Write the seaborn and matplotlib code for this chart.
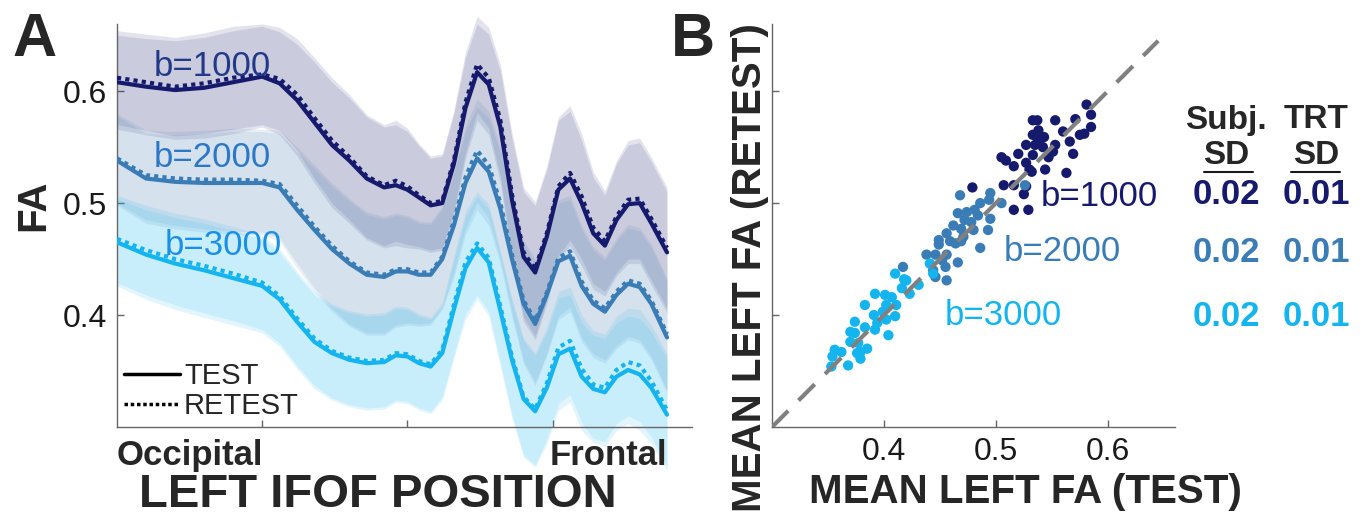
import matplotlib
matplotlib.use("Agg")
import numpy as np
import pandas as pd
import seaborn as sns
import matplotlib.pyplot as plt
from matplotlib.lines import Line2D

# ---- panel A: FA profiles along the left IFOF (node position 0-100) ----
nodes = [0, 5, 10, 15, 20, 25, 28, 31, 34, 37, 40, 43, 46, 48, 50, 52, 54, 56, 58,
         60, 62, 64, 66, 68, 70, 72, 74, 76, 78, 80, 82, 84, 86, 88, 90, 92, 94.7]

fa1000_test = [0.608, 0.604, 0.601, 0.603, 0.608, 0.613, 0.607, 0.592, 0.572, 0.552, 0.538, 0.522,
               0.514, 0.516, 0.512, 0.505, 0.498, 0.500, 0.535, 0.585, 0.617, 0.606, 0.568, 0.503,
               0.452, 0.438, 0.470, 0.512, 0.522, 0.500, 0.473, 0.462, 0.485, 0.499, 0.500, 0.482, 0.456]
fa1000_retest = [0.612, 0.608, 0.604, 0.607, 0.612, 0.615, 0.611, 0.597, 0.576, 0.556, 0.541, 0.524,
                 0.516, 0.520, 0.515, 0.507, 0.500, 0.502, 0.538, 0.590, 0.624, 0.612, 0.574, 0.508,
                 0.456, 0.441, 0.473, 0.515, 0.527, 0.506, 0.478, 0.466, 0.488, 0.503, 0.504, 0.486, 0.460]
fa2000_test = [0.538, 0.522, 0.519, 0.518, 0.518, 0.518, 0.514, 0.494, 0.476, 0.459, 0.446, 0.436,
               0.434, 0.439, 0.439, 0.436, 0.436, 0.450, 0.480, 0.518, 0.540, 0.528, 0.495, 0.450,
               0.410, 0.392, 0.418, 0.448, 0.453, 0.426, 0.410, 0.403, 0.418, 0.428, 0.425, 0.410, 0.380]
fa2000_retest = [0.540, 0.525, 0.522, 0.521, 0.521, 0.520, 0.517, 0.498, 0.479, 0.462, 0.448, 0.438,
                 0.436, 0.441, 0.441, 0.438, 0.438, 0.452, 0.484, 0.523, 0.547, 0.534, 0.500, 0.454,
                 0.413, 0.395, 0.420, 0.451, 0.457, 0.430, 0.413, 0.406, 0.421, 0.431, 0.428, 0.413, 0.383]
fa3000_test = [0.465, 0.454, 0.446, 0.440, 0.433, 0.426, 0.414, 0.394, 0.376, 0.366, 0.360, 0.357,
               0.358, 0.364, 0.363, 0.357, 0.354, 0.366, 0.405, 0.442, 0.460, 0.447, 0.404, 0.360,
               0.325, 0.314, 0.335, 0.365, 0.370, 0.345, 0.334, 0.331, 0.345, 0.351, 0.347, 0.335, 0.311]
fa3000_retest = [0.468, 0.458, 0.450, 0.444, 0.437, 0.429, 0.417, 0.397, 0.379, 0.368, 0.362, 0.359,
                 0.360, 0.366, 0.365, 0.359, 0.356, 0.369, 0.409, 0.447, 0.464, 0.451, 0.408, 0.363,
                 0.327, 0.316, 0.339, 0.371, 0.377, 0.352, 0.338, 0.335, 0.351, 0.358, 0.355, 0.341, 0.315]

# across-subject SD (band half width)
sd1000 = [0.042, 0.043, 0.044, 0.045, 0.046, 0.045, 0.046, 0.050, 0.054, 0.056, 0.056, 0.055,
          0.054, 0.054, 0.052, 0.046, 0.042, 0.042, 0.045, 0.045, 0.043, 0.045, 0.050, 0.055,
          0.058, 0.060, 0.060, 0.062, 0.060, 0.056, 0.050, 0.045, 0.050, 0.053, 0.054, 0.055, 0.054]
sd2000 = [0.040, 0.040, 0.042, 0.044, 0.046, 0.046, 0.048, 0.052, 0.055, 0.056, 0.056, 0.054,
          0.052, 0.050, 0.048, 0.046, 0.045, 0.045, 0.046, 0.046, 0.046, 0.048, 0.050, 0.052,
          0.054, 0.055, 0.054, 0.052, 0.050, 0.050, 0.048, 0.046, 0.048, 0.050, 0.050, 0.050, 0.050]
sd3000 = [0.039, 0.040, 0.041, 0.042, 0.042, 0.042, 0.042, 0.042, 0.042, 0.042, 0.042, 0.042,
          0.042, 0.042, 0.042, 0.042, 0.042, 0.042, 0.044, 0.046, 0.046, 0.048, 0.050, 0.052,
          0.052, 0.050, 0.050, 0.050, 0.048, 0.048, 0.048, 0.048, 0.048, 0.048, 0.050, 0.050, 0.050]

# ---- panel B: mean left FA per subject, test vs retest ----
b1000_test = [0.581, 0.585, 0.533, 0.537, 0.553, 0.571, 0.585, 0.579, 0.575, 0.538, 0.533, 0.538, 0.543,
              0.560, 0.566, 0.527, 0.535, 0.542, 0.553, 0.551, 0.520, 0.533, 0.547, 0.569, 0.505, 0.509,
              0.527, 0.516, 0.530, 0.532, 0.544, 0.563, 0.507, 0.527, 0.516, 0.529, 0.525, 0.479, 0.516]
b1000_retest = [0.588, 0.579, 0.574, 0.574, 0.574, 0.575, 0.568, 0.562, 0.561, 0.565, 0.561, 0.557, 0.559,
                0.564, 0.555, 0.552, 0.552, 0.550, 0.552, 0.546, 0.544, 0.543, 0.541, 0.544, 0.541, 0.538,
                0.536, 0.533, 0.530, 0.528, 0.530, 0.527, 0.516, 0.515, 0.494, 0.494, 0.508, 0.514, 0.516]
b2000_test = [0.468, 0.495, 0.494, 0.486, 0.505, 0.466, 0.474, 0.481, 0.484, 0.495, 0.472, 0.478, 0.462,
              0.469, 0.480, 0.493, 0.456, 0.471, 0.449, 0.459, 0.469, 0.449, 0.486, 0.438, 0.446, 0.456,
              0.452, 0.466, 0.417, 0.455, 0.444, 0.456, 0.464, 0.446, 0.526]
b2000_retest = [0.507, 0.509, 0.503, 0.500, 0.500, 0.491, 0.492, 0.494, 0.489, 0.486, 0.485, 0.483, 0.480,
                0.477, 0.476, 0.476, 0.473, 0.470, 0.467, 0.466, 0.466, 0.463, 0.460, 0.454, 0.454, 0.454,
                0.449, 0.447, 0.443, 0.443, 0.440, 0.431, 0.464, 0.434, 0.516]
b3000_test = [0.441, 0.410, 0.418, 0.416, 0.423, 0.431, 0.392, 0.401, 0.407, 0.383, 0.402, 0.411, 0.399,
              0.391, 0.410, 0.402, 0.374, 0.394, 0.383, 0.370, 0.374, 0.392, 0.404, 0.370, 0.377, 0.385,
              0.356, 0.362, 0.376, 0.354, 0.379, 0.353, 0.368, 0.444, 0.420, 0.379]
b3000_retest = [0.446, 0.437, 0.432, 0.424, 0.419, 0.427, 0.419, 0.418, 0.416, 0.409, 0.409, 0.409, 0.403,
                0.400, 0.399, 0.396, 0.394, 0.393, 0.389, 0.385, 0.384, 0.387, 0.382, 0.376, 0.375, 0.370,
                0.369, 0.367, 0.366, 0.363, 0.361, 0.354, 0.355, 0.437, 0.431, 0.367]

bvals = ["b=1000", "b=2000", "b=3000"]
subj_sd = ["0.02", "0.02", "0.02"]
trt_sd = ["0.01", "0.01", "0.01"]
identity = [0.30, 0.645]

line_colors = {"b=1000": "#161a6c", "b=2000": "#3a7db6", "b=3000": "#14b4ef"}
band_colors = {"b=1000": "#1c2070", "b=2000": "#4a80b0", "b=3000": "#14b4ef"}
labelA_colors = {"b=1000": "#22398a", "b=2000": "#2b78c6", "b=3000": "#1a8fe6"}

# long tables for seaborn
profiles = {"b=1000": (fa1000_test, fa1000_retest, sd1000),
            "b=2000": (fa2000_test, fa2000_retest, sd2000),
            "b=3000": (fa3000_test, fa3000_retest, sd3000)}
rows = []
for b, (t, r, s) in profiles.items():
    for n, v in zip(nodes, t):
        rows.append((n, v, b, "TEST"))
    for n, v in zip(nodes, r):
        rows.append((n, v, b, "RETEST"))
prof = pd.DataFrame(rows, columns=["node", "fa", "bval", "session"])

pts = pd.concat([
    pd.DataFrame({"test": b1000_test, "retest": b1000_retest, "bval": "b=1000"}),
    pd.DataFrame({"test": b2000_test, "retest": b2000_retest, "bval": "b=2000"}),
    pd.DataFrame({"test": b3000_test, "retest": b3000_retest, "bval": "b=3000"}),
], ignore_index=True)

sns.set_theme(style="white")
plt.rcParams["font.family"] = ["Liberation Sans", "DejaVu Sans"]

W, H = 1362, 523
fig = plt.figure(figsize=(W / 100, H / 100), dpi=100)
axA = fig.add_axes([117 / W, 1 - 427 / H, (692 - 117) / W, 403 / H])
axB = fig.add_axes([772 / W, 1 - 427 / H, (1175 - 772) / W, 403 / H])

# bands (test and retest, each mean +/- SD)
nd = np.array(nodes)
for b, (t, r, s) in profiles.items():
    for series in (t, r):
        y = np.array(series)
        axA.fill_between(nd, y - np.array(s), y + np.array(s), color=band_colors[b],
                         alpha=0.12, lw=0, clip_on=False, zorder=1)

sns.lineplot(data=prof, x="node", y="fa", hue="bval", style="session", palette=line_colors,
             dashes={"TEST": "", "RETEST": (1, 1)}, style_order=["TEST", "RETEST"],
             linewidth=3, estimator=None, sort=False, legend=False, ax=axA, zorder=3)

axA.set_xlim(0, 99)
axA.set_ylim(0.30, 0.66)
axA.set_xticks([25, 50, 75])
axA.set_xticklabels([])
axA.set_yticks([0.4, 0.5, 0.6])
axA.set_yticklabels(["0.4", "0.5", "0.6"])
axA.set_xlabel("")
axA.set_ylabel("")

labelA_pos = {"b=1000": (6.4, 0.622), "b=2000": (6.4, 0.541), "b=3000": (8.3, 0.4625)}
for b in bvals:
    axA.text(*labelA_pos[b], b, color=labelA_colors[b], fontsize=25, ha="left", va="center")

handles = [Line2D([], [], color="black", lw=2.5),
           Line2D([], [], color="black", lw=2.5, ls=(0, (1, 0.8)))]
axA.legend(handles, ["TEST", "RETEST"], loc="lower left", frameon=False, fontsize=21,
           handlelength=1.9, handletextpad=0.15, labelspacing=0.05, borderaxespad=0.15,
           borderpad=0.1)

axA.text(0, -0.07, "Occipital", transform=axA.transAxes, fontsize=25, fontweight="bold",
         ha="left", va="center")
axA.text(94.7 / 99, -0.07, "Frontal", transform=axA.transAxes, fontsize=25, fontweight="bold",
         ha="right", va="center")

# scatter
sns.scatterplot(data=pts, x="test", y="retest", hue="bval", palette=line_colors, s=55,
                edgecolor="none", legend=False, ax=axB, zorder=2)
axB.plot(identity, identity, color="#808080", lw=3, ls=(0, (5.5, 3.5)), zorder=3,
         solid_capstyle="butt")
axB.set_xlim(0.30, 0.66)
axB.set_ylim(0.30, 0.66)
axB.set_xticks([0.4, 0.5, 0.6])
axB.set_xticklabels(["0.4", "0.5", "0.6"])
axB.set_yticks([0.4, 0.5, 0.6])
axB.set_yticklabels([])
axB.set_xlabel("")
axB.set_ylabel("")

labelB_pos = {"b=1000": (0.540, 0.506), "b=2000": (0.507, 0.457), "b=3000": (0.4545, 0.400)}
for b in bvals:
    axB.text(*labelB_pos[b], b, color=line_colors[b], fontsize=25, ha="left", va="center")

for ax in (axA, axB):
    sns.despine(ax=ax)
    for sp in ("left", "bottom"):
        ax.spines[sp].set_color("#666666")
        ax.spines[sp].set_linewidth(1.0)
    ax.tick_params(direction="in", length=5, width=1, color="#666666", labelcolor="#1a1a1a",
                   labelsize=23, pad=7, left=True, bottom=True)
    ax.set_facecolor("none")

# table of SDs
cx1, cx2 = 1226 / W, 1316 / W
fig.text(cx1, 1 - 120 / H, "Subj.", fontsize=24, fontweight="bold", ha="center", va="center")
fig.text(cx2, 1 - 120 / H, "TRT", fontsize=24, fontweight="bold", ha="center", va="center")
fig.text(cx1, 1 - 155 / H, "SD", fontsize=24, fontweight="bold", ha="center", va="center")
fig.text(cx2, 1 - 155 / H, "SD", fontsize=24, fontweight="bold", ha="center", va="center")
for x0, x1 in ((1204, 1253), (1291, 1340)):
    fig.add_artist(Line2D([x0 / W, x1 / W], [1 - 172 / H, 1 - 172 / H], color="#1a1a1a", lw=1.5))
row_y = [195, 253, 316]
for b, yy, s1, s2 in zip(bvals, row_y, subj_sd, trt_sd):
    fig.text(cx1, 1 - yy / H, s1, fontsize=25, fontweight="bold", color=line_colors[b],
             ha="center", va="center")
    fig.text(cx2, 1 - yy / H, s2, fontsize=25, fontweight="bold", color=line_colors[b],
             ha="center", va="center")

# axis titles and panel letters
fig.text(33 / W, 1 - 205 / H, "FA", fontsize=29, fontweight="bold", rotation=90,
         ha="center", va="center")
fig.text(378 / W, 1 - 495 / H, "LEFT IFOF POSITION", fontsize=34, fontweight="bold",
         ha="center", va="center")
fig.text(750 / W, 1 - 268 / H, "MEAN LEFT FA (RETEST)", fontsize=29, fontweight="bold",
         rotation=90, ha="center", va="center")
fig.text(1025 / W, 1 - 492 / H, "MEAN LEFT FA (TEST)", fontsize=29, fontweight="bold",
         ha="center", va="center")
fig.text(35 / W, 1 - 40 / H, "A", fontsize=44, fontweight="bold", ha="center", va="center")
fig.text(693 / W, 1 - 40 / H, "B", fontsize=44, fontweight="bold", ha="center", va="center")

fig.savefig("out.png", dpi=100)
